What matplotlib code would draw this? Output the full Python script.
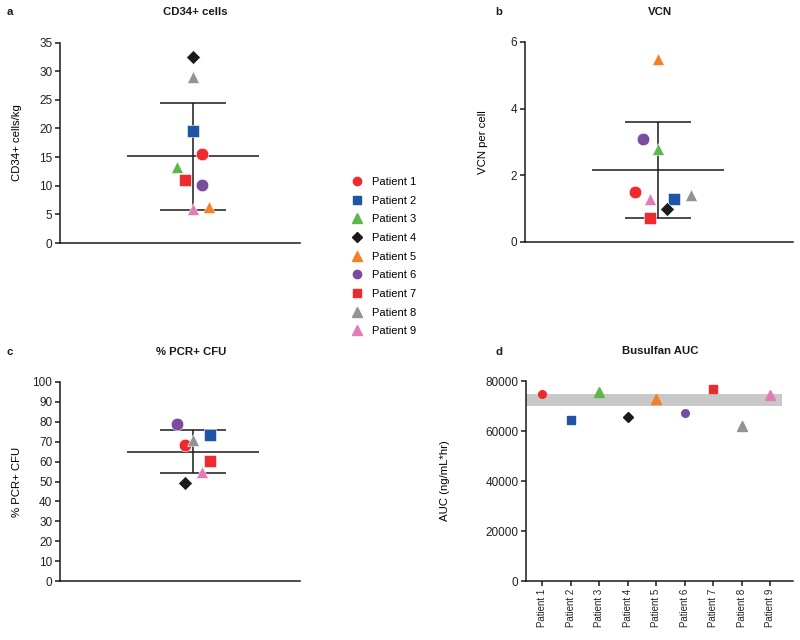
import matplotlib
matplotlib.use("Agg")
import matplotlib.pyplot as plt

plt.rcParams['font.family'] = ['Liberation Sans', 'DejaVu Sans']
plt.rcParams['font.size'] = 8

patients = ['Patient 1', 'Patient 2', 'Patient 3', 'Patient 4', 'Patient 5',
            'Patient 6', 'Patient 7', 'Patient 8', 'Patient 9']
colors = ['#ee2a2f', '#1f55a5', '#5db84a', '#1a1a1a', '#f58025',
          '#7a4b9f', '#ee2a2f', '#939393', '#e17cb6']
markers = ['o', 's', '^', 'D', '^', 'o', 's', '^', '^']

# panel a: CD34+ cells/kg
cd34 = [15.5, 19.5, 13.3, 32.5, 6.3, 10.1, 11.0, 29.0, 6.0]
cd34_mean, cd34_sd = 15.1, 9.3

# panel b: VCN per cell
vcn = [1.5, 1.3, 2.8, 1.0, 5.5, 3.1, 0.72, 1.42, 1.3]
vcn_mean, vcn_sd = 2.15, 1.44

# panel c: % PCR+ CFU (patients 3 and 5 not available)
pcr = [68.5, 73.5, None, 49.0, None, 79.0, 60.5, 71.0, 55.0]
pcr_mean, pcr_sd = 65.0, 10.8

# panel d: busulfan AUC
auc = [75000, 64500, 75500, 65500, 73000, 67200, 77000, 62000, 74500]
auc_target = (70000, 75000)

# horizontal scatter offsets for the column plots (pixel-like units)
jit_a = [9, 0, -16, 0, 16, 9, -8, 0, 0]
jit_b = [-23, 16, 0, 9, 0, -15, -8, 33, -8]
jit_c = [-8, 17, 0, -8, 0, -16, 17, 0, 9]

W, H = 800, 640
fig = plt.figure(figsize=(8, 6.4), dpi=100)


def px_axes(l, r, t, b):
    return fig.add_axes([l / W, 1 - b / H, (r - l) / W, (b - t) / H])


def style(ax):
    for s in ['top', 'right']:
        ax.spines[s].set_visible(False)
    for s in ['left', 'bottom']:
        ax.spines[s].set_linewidth(1.1)
        ax.spines[s].set_color('#1a1a1a')
    ax.tick_params(direction='out', length=3.5, width=1.1, color='#1a1a1a',
                   labelsize=8.5, labelcolor='#222222', pad=2)


def column(ax, vals, jit, mean, sd, ms):
    ax.hlines(mean, -66, 66, color='#1a1a1a', lw=1.1, zorder=2)
    ax.hlines([mean - sd, mean + sd], -33, 33, color='#1a1a1a', lw=1.1, zorder=2)
    ax.vlines(0, mean - sd, mean + sd, color='#1a1a1a', lw=1.1, zorder=2)
    for v, j, c, m in zip(vals, jit, colors, markers):
        if v is None:
            continue
        size = ms * 0.8 if m == 'D' else ms
        ax.plot(j, v, marker=m, color=c, ms=size, mec='white', mew=0.4,
                ls='none', zorder=3)
    ax.set_xticks([])


# a
ax = px_axes(60, 300, 42.5, 243)
column(ax, cd34, jit_a, cd34_mean, cd34_sd, 9)
ax.set_xlim(-133, 107)
ax.set_ylim(0, 35)
ax.set_yticks(range(0, 36, 5))
ax.set_ylabel('CD34+ cells/kg', fontsize=8.2)
ax.yaxis.set_label_coords(-0.158, 0.5)
style(ax)

# b
ax = px_axes(525, 793, 42, 242)
column(ax, vcn, jit_b, vcn_mean, vcn_sd, 9)
ax.set_xlim(-133, 135)
ax.set_ylim(0, 6)
ax.set_yticks([0, 2, 4, 6])
ax.set_ylabel('VCN per cell', fontsize=8.2)
ax.yaxis.set_label_coords(-0.138, 0.5)
style(ax)

# c
ax = px_axes(60, 300, 382, 581)
column(ax, pcr, jit_c, pcr_mean, pcr_sd, 9)
ax.set_xlim(-133, 107)
ax.set_ylim(0, 100)
ax.set_yticks(range(0, 101, 10))
ax.set_ylabel('% PCR+ CFU', fontsize=8.2)
ax.yaxis.set_label_coords(-0.158, 0.5)
style(ax)

# d
ax = px_axes(526, 793, 381, 581)
xs = list(range(1, len(patients) + 1))
ax.fill_between([0.44, 9.4], auc_target[0], auc_target[1], color='#c8c8c8',
                lw=0, zorder=1)
for x, v, c, m in zip(xs, auc, colors, markers):
    size = {'^': 7, 'D': 5, 'o': 5.5, 's': 5.5}[m]
    ax.plot(x, v, marker=m, color=c, ms=size, ls='none', zorder=3)
ax.set_xlim(0.44, 9.8)
ax.set_ylim(0, 80000)
ax.set_yticks(range(0, 80001, 20000))
ax.set_xticks(xs)
ax.set_xticklabels(patients, rotation=90)
ax.set_ylabel('AUC (ng/mL*hr)', fontsize=8.2)
ax.yaxis.set_label_coords(-0.285, 0.5)
style(ax)
ax.tick_params(axis='x', labelsize=7)

# legend
handles = [plt.Line2D([], [], marker=m, color=c, ls='none',
                      ms={'^': 7, 'D': 5.5, 'o': 6, 's': 5.5}[m])
           for c, m in zip(colors, markers)]
fig.legend(handles, patients, loc='center left',
           bbox_to_anchor=(340 / W, 1 - 256.5 / H), frameon=False,
           handletextpad=0.75, labelspacing=0.78, fontsize=8, handlelength=1.2)

# titles and panel letters
for x, y, s in [(195, 12, 'CD34+ cells'), (660, 12, 'VCN'),
                (191, 352, '% PCR+ CFU'), (660, 351, 'Busulfan AUC')]:
    fig.text(x / W, 1 - y / H, s, ha='center', va='center', fontsize=8.2,
             fontweight='bold', color='#1a1a1a')
for x, y, s in [(10, 12, 'a'), (499, 12, 'b'), (10, 352, 'c'), (499, 352, 'd')]:
    fig.text(x / W, 1 - y / H, s, ha='center', va='center', fontsize=8.2,
             fontweight='bold', color='#1a1a1a')

fig.savefig('out.png', dpi=100)
